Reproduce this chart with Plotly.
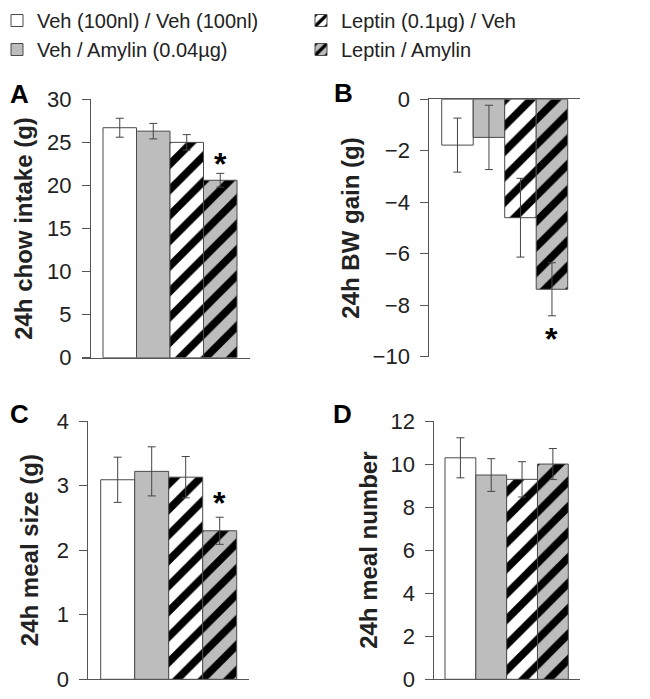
import plotly.graph_objects as go

# ---------------- data ----------------
groups = ["Veh (100nl) / Veh (100nl)", "Veh / Amylin (0.04µg)",
          "Leptin (0.1µg) / Veh", "Leptin / Amylin"]
positions = [0, 1, 2, 3]

chow_mean = [26.7, 26.3, 25.0, 20.6]
chow_sem = [1.1, 0.9, 0.9, 0.8]

bw_mean = [-1.78, -1.48, -4.6, -7.38]
bw_sem = [1.05, 1.25, 1.53, 1.03]

mealsize_mean = [3.09, 3.22, 3.13, 2.30]
mealsize_sem = [0.35, 0.38, 0.32, 0.21]

mealnum_mean = [10.29, 9.49, 9.29, 10.0]
mealnum_sem = [0.93, 0.76, 0.82, 0.72]

chow_ticks = [0, 5, 10, 15, 20, 25, 30]
bw_ticks = [0, -2, -4, -6, -8, -10]
mealsize_ticks = [0, 1, 2, 3, 4]
mealnum_ticks = [0, 2, 4, 6, 8, 10, 12]

# significance markers (Leptin / Amylin in panels A, B, C)
significant = [False, False, False, True]

# ---------------- style ----------------
FONT = "Liberation Sans, Arial, Helvetica, sans-serif"
GRAY = "#bdbdbd"
fills = ["white", GRAY, "white", GRAY]
hatch = ["", "", "/", "/"]
EDGE = "#4a4a4a"
AXC = "#555555"

panels = [
    dict(mean=chow_mean, sem=chow_sem, x="x", y="y", letter="A",
         title="24h chow intake (g)", ticks=chow_ticks, down=False, star=True, gap=14),
    dict(mean=bw_mean, sem=bw_sem, x="x2", y="y2", letter="B",
         title="24h BW gain (g)", ticks=bw_ticks, down=True, star=True, gap=18),
    dict(mean=mealsize_mean, sem=mealsize_sem, x="x3", y="y3", letter="C",
         title="24h meal size (g)", ticks=mealsize_ticks, down=False, star=True, gap=19),
    dict(mean=mealnum_mean, sem=mealnum_sem, x="x4", y="y4", letter="D",
         title="24h meal number", ticks=mealnum_ticks, down=False, star=False, gap=0),
]

fig = go.Figure()

for pi, p in enumerate(panels):
    for gi, g in enumerate(groups):
        fig.add_trace(go.Bar(
            x=[positions[gi]], y=[p["mean"][gi]],
            width=1,
            name=g,
            legendgroup=g,
            showlegend=(pi == 0),
            legend="legend" if gi < 2 else "legend2",
            marker=dict(
                color=fills[gi],
                line=dict(color=EDGE, width=1),
                pattern=dict(shape=hatch[gi], fgcolor="black", bgcolor=fills[gi],
                             size=18, solidity=0.42, fillmode="replace"),
            ),
            error_y=dict(type="data", array=[p["sem"][gi]], color="#444444",
                         thickness=1, width=4),
            xaxis=p["x"], yaxis=p["y"],
            hoverinfo="skip",
        ))
        if significant[gi] and p["star"]:
            if p["down"]:
                ys = p["mean"][gi] - p["sem"][gi]
                shift = -p["gap"] - 5
            else:
                ys = p["mean"][gi] + p["sem"][gi]
                shift = p["gap"] - 5
            fig.add_annotation(
                x=positions[gi], y=ys, xref=p["x"], yref=p["y"],
                text="<b>*</b>", showarrow=False, yanchor="middle",
                yshift=shift, font=dict(size=32, color="black", family=FONT))

H = 699.0
W = 650.0
OFF = 8.0  # page offset of the plot div

def py(y):
    return 1 - (y - OFF) / H

def px_(x):
    return (x - OFF) / W

axis_common = dict(showgrid=False, zeroline=False, showline=True, linecolor=AXC,
                   linewidth=1)
yfont = dict(size=22, color="#222222", family=FONT)
tfont = dict(size=24, color="#222222", family=FONT, weight="bold")
ytick = dict(ticks="outside", ticklen=8, tickcolor=AXC, tickwidth=1,
             ticklabelstandoff=6, tickfont=yfont)

layout = dict(
    width=650, height=699,
    margin=dict(l=0, r=0, t=0, b=0, autoexpand=False),
    paper_bgcolor="white", plot_bgcolor="rgba(0,0,0,0)",
    barmode="overlay",
    font=dict(family=FONT, color="#222222"),
    # Panel A
    xaxis=dict(domain=[px_(82), px_(250)], range=[-1.127, 3.888], anchor="y",
               showticklabels=False, ticks="", **axis_common),
    yaxis=dict(domain=[py(357.7), py(99.3)], range=[0, 30], anchor="free",
               position=px_(90), tickvals=chow_ticks,
               title=dict(text=panels[0]["title"], font=tfont, standoff=6),
               **ytick, **axis_common),
    # Panel B
    xaxis2=dict(domain=[px_(429.3), px_(580)], range=[-0.894, 3.89], anchor="y2",
                side="top", showticklabels=False, ticks="", **axis_common),
    yaxis2=dict(domain=[py(356.7), py(99.3)], range=[-10, 0], anchor="x2",
                tickvals=bw_ticks,
                title=dict(text=panels[1]["title"], font=tfont, standoff=6),
                **ytick, **axis_common),
    # Panel C
    xaxis3=dict(domain=[px_(79), px_(249)], range=[-1.138, 3.862], anchor="y3",
                showticklabels=False, ticks="", **axis_common),
    yaxis3=dict(domain=[py(679.3), py(421)], range=[0, 4], anchor="free",
                position=px_(87.3), tickvals=mealsize_ticks,
                title=dict(text=panels[2]["title"], font=tfont, standoff=10),
                **ytick, **axis_common),
    # Panel D
    xaxis4=dict(domain=[px_(425), px_(580)], range=[-1.149, 3.88], anchor="y4",
                showticklabels=False, ticks="", **axis_common),
    yaxis4=dict(domain=[py(679.3), py(421)], range=[0, 12], anchor="free",
                position=px_(433.3), tickvals=mealnum_ticks,
                title=dict(text=panels[3]["title"], font=tfont, standoff=5),
                **ytick, **axis_common),
    legend=dict(x=-11 / W, y=1 + 7 / H, xanchor="left", yanchor="top", orientation="v",
                font=dict(size=20, color="#222222", family=FONT),
                bgcolor="rgba(0,0,0,0)", tracegroupgap=0, itemwidth=30),
    legend2=dict(x=293 / W, y=1 + 7 / H, xanchor="left", yanchor="top", orientation="v",
                 font=dict(size=20, color="#222222", family=FONT),
                 bgcolor="rgba(0,0,0,0)", tracegroupgap=0, itemwidth=30),
)
fig.update_layout(**layout)

letter_pos = [(8, 94), (332, 93), (8, 414), (331, 414)]
for p, (lx, ly) in zip(panels, letter_pos):
    fig.add_annotation(x=px_(lx), y=py(ly), xref="paper", yref="paper",
                       text="<b>%s</b>" % p["letter"], showarrow=False,
                       xanchor="left", yanchor="middle",
                       font=dict(size=26, color="black", family=FONT))

fig.write_html("out.html")
